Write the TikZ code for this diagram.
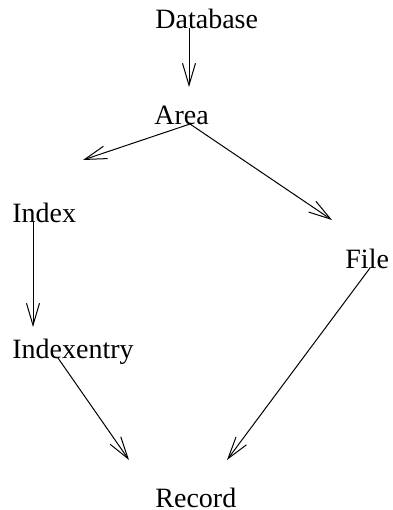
\documentclass[tikz,border=0pt]{standalone}
\usepackage{fontspec}
\setmainfont{Liberation Serif}
\usepackage{tikz}
\usetikzlibrary{arrows.meta,calc}

\begin{document}
\begin{tikzpicture}[x=0.5pt,y=-0.5pt,
  lbl/.style={anchor=base west,inner sep=0pt,font=\fontsize{14}{17}\selectfont},
  link/.style={line width=0.5pt,-{Straight Barb[length=11pt,width=6.5pt]}}]
    \useasboundingbox (0,0) rectangle (392,510);
    % the record types
    \node[lbl](db) at (155,28) {Database};
    \node[lbl](ar) at (154,124) {Area};
    \node[lbl](ix) at (12,222) {Index};
    \node[lbl](ie) at (12,358) {Indexentry};
    \node[lbl](fl) at (345,268) {File};
    \node[lbl](rc) at (155,507) {Record};
    % arrow tips stop short of the labels
    \coordinate (to-area) at (189,87);
    \coordinate (to-index) at (83,160);
    \coordinate (to-file) at (332,220);
    \coordinate (to-entry) at (33,327);
    \coordinate (entry-rec) at (129,460);
    \coordinate (file-rec) at (227,460);
    \foreach \from/\dx/\tip in %
    {db/34/to-area,ar/36/to-index,ar/36/to-file,ix/21/to-entry,ie/46/entry-rec,fl/25/file-rec} {
       \draw[link] ($(\from.base west)+(\dx,0)$) -- (\tip);
    }
\end{tikzpicture}
\end{document}
